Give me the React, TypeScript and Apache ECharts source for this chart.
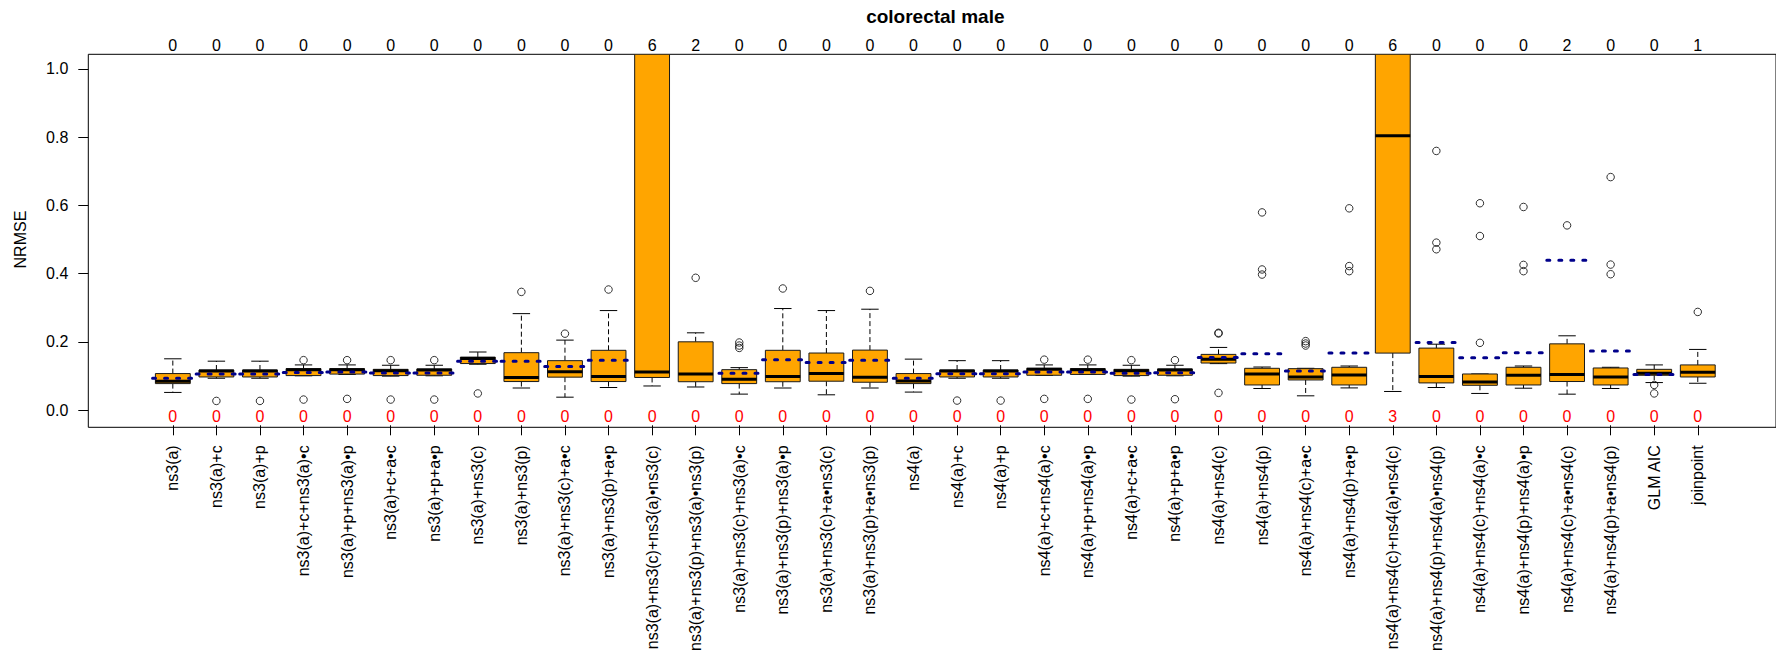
import React, { useEffect, useRef } from "react";
import * as echarts from "echarts";

// Model labels along the x axis
const categories = [
  "ns3(a)",
  "ns3(a)+c",
  "ns3(a)+p",
  "ns3(a)+c+ns3(a)•c",
  "ns3(a)+p+ns3(a)•p",
  "ns3(a)+c+a•c",
  "ns3(a)+p+a•p",
  "ns3(a)+ns3(c)",
  "ns3(a)+ns3(p)",
  "ns3(a)+ns3(c)+a•c",
  "ns3(a)+ns3(p)+a•p",
  "ns3(a)+ns3(c)+ns3(a)•ns3(c)",
  "ns3(a)+ns3(p)+ns3(a)•ns3(p)",
  "ns3(a)+ns3(c)+ns3(a)•c",
  "ns3(a)+ns3(p)+ns3(a)•p",
  "ns3(a)+ns3(c)+a•ns3(c)",
  "ns3(a)+ns3(p)+a•ns3(p)",
  "ns4(a)",
  "ns4(a)+c",
  "ns4(a)+p",
  "ns4(a)+c+ns4(a)•c",
  "ns4(a)+p+ns4(a)•p",
  "ns4(a)+c+a•c",
  "ns4(a)+p+a•p",
  "ns4(a)+ns4(c)",
  "ns4(a)+ns4(p)",
  "ns4(a)+ns4(c)+a•c",
  "ns4(a)+ns4(p)+a•p",
  "ns4(a)+ns4(c)+ns4(a)•ns4(c)",
  "ns4(a)+ns4(p)+ns4(a)•ns4(p)",
  "ns4(a)+ns4(c)+ns4(a)•c",
  "ns4(a)+ns4(p)+ns4(a)•p",
  "ns4(a)+ns4(c)+a•ns4(c)",
  "ns4(a)+ns4(p)+a•ns4(p)",
  "GLM AIC",
  "joinpoint",
];

// Box statistics per model (NRMSE)
const whiskerLow = [
  0.047, 0.0887, 0.0887, 0.096, 0.1, 0.095, 0.096, 0.13, 0.06, 0.033, 0.0615, 0.066,
  0.063, 0.042, 0.06, 0.04, 0.06, 0.048, 0.0887, 0.0887, 0.097, 0.1, 0.095, 0.096,
  0.1318, 0.0586, 0.037, 0.0603, 0.0498, 0.0615, 0.044, 0.0594, 0.0419, 0.0586, 0.076, 0.074,
];
const lowerQuartile = [
  0.073, 0.0925, 0.0925, 0.0966, 0.101, 0.0966, 0.0975, 0.132, 0.079, 0.092, 0.079, 0.091,
  0.0785, 0.073, 0.0785, 0.08, 0.077, 0.073, 0.0925, 0.0925, 0.0975, 0.1, 0.0966, 0.0975,
  0.1335, 0.069, 0.0837, 0.069, 0.1628, 0.075, 0.068, 0.069, 0.0791, 0.069, 0.0975, 0.0925,
];
const medians = [
  0.08, 0.11, 0.11, 0.114, 0.114, 0.111, 0.113, 0.147, 0.091, 0.108, 0.094, 0.107,
  0.101, 0.086, 0.094, 0.1025, 0.092, 0.081, 0.11, 0.11, 0.115, 0.114, 0.111, 0.113,
  0.1444, 0.1013, 0.0925, 0.0984, 0.803, 0.0937, 0.078, 0.0975, 0.0996, 0.0925, 0.1034, 0.1063,
];
const upperQuartile = [
  0.1025, 0.113, 0.113, 0.117, 0.117, 0.115, 0.116, 0.151, 0.164, 0.1405, 0.171, 1.35,
  0.196, 0.114, 0.171, 0.163, 0.1716, 0.1025, 0.113, 0.113, 0.118, 0.117, 0.115, 0.116,
  0.159, 0.118, 0.117, 0.121, 1.3, 0.1775, 0.1013, 0.121, 0.19, 0.119, 0.115, 0.128,
];
const whiskerHigh = [
  0.146, 0.139, 0.139, 0.128, 0.128, 0.127, 0.127, 0.166, 0.279, 0.201, 0.288, 2.4,
  0.2225, 0.12, 0.294, 0.288, 0.292, 0.145, 0.1405, 0.1405, 0.128, 0.128, 0.127, 0.127,
  0.1795, 0.1218, 0.118, 0.1248, 2.2, 0.189, 0.1013, 0.1248, 0.2137, 0.121, 0.128, 0.1736,
];
const means = [
  0.0887, 0.101, 0.101, 0.106, 0.107, 0.104, 0.104, 0.1385, 0.1385, 0.123, 0.142, 1.9,
  1.1, 0.1034, 0.1435, 0.135, 0.1414, 0.0887, 0.1017, 0.1017, 0.107, 0.107, 0.1036, 0.105,
  0.15, 0.161, 0.11, 0.1628, 1.6, 0.194, 0.149, 0.164, 0.4363, 0.1687, 0.0996, 1.2,
];
const outliers: number[][] = [
  [], [0.022], [0.022], [0.142, 0.026], [0.142, 0.028], [0.142, 0.026],
  [0.142, 0.026], [0.044], [0.343], [0.22], [0.35], [],
  [0.3845], [0.194, 0.185, 0.178], [0.353], [], [0.346], [],
  [0.023], [0.023], [0.1435, 0.028], [0.1435, 0.028], [0.142, 0.026], [0.142, 0.027],
  [0.2225, 0.2205, 0.0457], [0.577, 0.409, 0.394], [0.198, 0.191, 0.185], [0.589, 0.419, 0.404], [], [0.758, 0.488, 0.4685],
  [0.604, 0.5075, 0.193], [0.593, 0.4225, 0.404], [0.5388], [0.681, 0.4234, 0.395], [0.069, 0.044], [0.284],
];

// Counts printed above and inside the bottom of the panel
const topCounts = [
  0, 0, 0, 0, 0, 0, 0, 0, 0, 0, 0, 6, 2, 0, 0, 0, 0, 0,
  0, 0, 0, 0, 0, 0, 0, 0, 0, 0, 6, 0, 0, 0, 2, 0, 0, 1,
];
const bottomCounts = [
  0, 0, 0, 0, 0, 0, 0, 0, 0, 0, 0, 0, 0, 0, 0, 0, 0, 0,
  0, 0, 0, 0, 0, 0, 0, 0, 0, 0, 3, 0, 0, 0, 0, 0, 0, 0,
];

const yTickValues = [0, 0.2, 0.4, 0.6, 0.8, 1.0];
const chartTitle = "colorectal male";
const yAxisTitle = "NRMSE";

// Layout
const WIDTH = 1776;
const HEIGHT = 654;
const PLOT_LEFT = 88.3;
const PLOT_TOP = 54.3;
const PLOT_BOTTOM = 427.3;
const STEP = 43.57; // distance between neighbouring boxes
const EDGE_UNITS = 1.94; // frame edge to first/last box centre
const Y_MIN = -0.0498;
const Y_MAX = 1.0425;

const FONT = "'Liberation Sans', Arial, Helvetica, sans-serif";
const BOX_FILL = "#FFA500";
const MEAN_COLOR = "#00008B";

const frameWidth = (categories.length - 1 + 2 * EDGE_UNITS) * STEP;
const plotHeight = PLOT_BOTTOM - PLOT_TOP;
const pxPerUnit = plotHeight / (Y_MAX - Y_MIN);
const bandLeft = PLOT_LEFT + (EDGE_UNITS - 0.5) * STEP;
const bandWidth = categories.length * STEP;

const renderBox = (params: any, api: any) => {
  const i = api.value(0);
  const cs = params.coordSys;
  const top = cs.y;
  const bottom = cs.y + cs.height;
  const band = api.size([1, 0])[0];
  const half = band * 0.4;
  const cap = half * 0.5;
  const cx = api.coord([i, 0])[0];
  const y = (v: number) => api.coord([i, v])[1];
  const clamp = (v: number) => Math.min(bottom, Math.max(top, v));
  const yLo = y(api.value(1));
  const yQ1 = y(api.value(2));
  const yMed = y(api.value(3));
  const yQ3 = y(api.value(4));
  const yHi = y(api.value(5));
  const whisker = { stroke: "#000", lineWidth: 1, lineDash: [5, 3], fill: null };
  const solid = { stroke: "#000", lineWidth: 1, fill: null };
  const children: any[] = [];
  if (yQ3 > top) {
    children.push({ type: "line", shape: { x1: cx, y1: yQ3, x2: cx, y2: clamp(yHi) }, style: whisker });
  }
  if (yHi >= top) {
    children.push({ type: "line", shape: { x1: cx - cap, y1: yHi, x2: cx + cap, y2: yHi }, style: solid });
  }
  children.push({ type: "line", shape: { x1: cx, y1: yQ1, x2: cx, y2: clamp(yLo) }, style: whisker });
  if (yLo <= bottom) {
    children.push({ type: "line", shape: { x1: cx - cap, y1: yLo, x2: cx + cap, y2: yLo }, style: solid });
  }
  const boxTop = clamp(yQ3);
  children.push({
    type: "rect",
    shape: { x: cx - half, y: boxTop, width: half * 2, height: yQ1 - boxTop },
    style: { fill: BOX_FILL, stroke: "#1a1a1a", lineWidth: 1 },
  });
  if (yMed >= top) {
    children.push({
      type: "line",
      shape: { x1: cx - half, y1: yMed, x2: cx + half, y2: yMed },
      style: { stroke: "#000", lineWidth: 3, fill: null },
    });
  }
  return { type: "group", children };
};

const renderMean = (params: any, api: any) => {
  const i = api.value(0);
  const m = api.value(1);
  const cs = params.coordSys;
  const [cx, cy] = api.coord([i, m]);
  if (cy < cs.y || cy > cs.y + cs.height) return { type: "group", children: [] };
  const half = api.size([1, 0])[0] * 0.465;
  return {
    type: "line",
    shape: { x1: cx - half, y1: cy, x2: cx + half, y2: cy },
    style: { stroke: MEAN_COLOR, lineWidth: 3, lineDash: [3, 9], lineCap: "round", fill: null },
  };
};

export default function App() {
  const ref = useRef<HTMLDivElement>(null);

  useEffect(() => {
    document.body.style.margin = "0";
    if (!ref.current) return;
    const chart = echarts.init(ref.current, undefined, { renderer: "svg" });

    const boxData = categories.map((_, i) => [
      i,
      whiskerLow[i],
      lowerQuartile[i],
      medians[i],
      upperQuartile[i],
      whiskerHigh[i],
    ]);
    const meanData = categories.map((_, i) => [i, means[i]]);
    const outlierData: number[][] = [];
    outliers.forEach((list, i) => list.forEach((v) => outlierData.push([i, v])));

    const hiddenValueAxis = (gridIndex: number) => ({
      gridIndex,
      type: "value",
      show: false,
      min: 0,
      max: 1,
      axisLine: { onZero: false },
    });

    const option: any = {
      animation: false,
      backgroundColor: "#fff",
      textStyle: { fontFamily: FONT },
      grid: [
        // frame of the panel
        {
          left: PLOT_LEFT,
          top: PLOT_TOP,
          width: frameWidth,
          height: plotHeight,
          show: true,
          borderColor: "#000",
          borderWidth: 1,
          backgroundColor: "transparent",
        },
        // boxes
        { left: bandLeft, top: PLOT_TOP, width: bandWidth, height: plotHeight },
        // y tick range 0..1
        {
          left: PLOT_LEFT,
          top: PLOT_TOP + (Y_MAX - 1) * pxPerUnit,
          width: 10,
          height: pxPerUnit,
        },
      ],
      xAxis: [
        hiddenValueAxis(0),
        {
          gridIndex: 1,
          type: "category",
          position: "bottom",
          data: categories,
          axisLine: { show: false, onZero: false },
          axisTick: { show: true, alignWithLabel: true, interval: 0, length: 10, lineStyle: { color: "#000" } },
          axisLabel: { interval: 0, rotate: 90, margin: 20, fontSize: 16, color: "#000", fontFamily: FONT },
          splitLine: { show: false },
        },
        {
          gridIndex: 1,
          type: "category",
          position: "top",
          data: categories,
          axisLine: { show: false, onZero: false },
          axisTick: { show: false },
          axisLabel: {
            interval: 0,
            margin: 1,
            fontSize: 16,
            color: "#000",
            fontFamily: FONT,
            formatter: (_v: string, idx: number) => String(topCounts[idx]),
          },
        },
        {
          gridIndex: 1,
          type: "category",
          position: "bottom",
          offset: -17,
          data: categories,
          axisLine: { show: false, onZero: false },
          axisTick: { show: false },
          axisLabel: {
            interval: 0,
            margin: 0,
            fontSize: 16,
            color: "#FF0000",
            fontFamily: FONT,
            formatter: (_v: string, idx: number) => String(bottomCounts[idx]),
          },
        },
        hiddenValueAxis(2),
      ],
      yAxis: [
        { ...hiddenValueAxis(0), min: Y_MIN, max: Y_MAX },
        {
          gridIndex: 1,
          type: "value",
          min: Y_MIN,
          max: Y_MAX,
          show: false,
          axisLine: { onZero: false },
          splitLine: { show: false },
        },
        {
          gridIndex: 2,
          type: "value",
          position: "left",
          min: yTickValues[0],
          max: yTickValues[yTickValues.length - 1],
          interval: yTickValues[1] - yTickValues[0],
          axisLine: { show: false, onZero: false },
          axisTick: { show: true, length: 10, lineStyle: { color: "#000" } },
          axisLabel: {
            margin: 20,
            fontSize: 16,
            color: "#000",
            fontFamily: FONT,
            formatter: (v: number) => v.toFixed(1),
          },
          splitLine: { show: false },
          name: yAxisTitle,
          nameLocation: "middle",
          nameGap: 60,
          nameTextStyle: { fontSize: 16, color: "#000", fontFamily: FONT },
        },
      ],
      graphic: [
        {
          type: "text",
          x: PLOT_LEFT + frameWidth / 2,
          y: 16,
          style: {
            text: chartTitle,
            font: `bold 19px ${FONT}`,
            fill: "#000",
            align: "center",
            verticalAlign: "middle",
            textAlign: "center",
            textVerticalAlign: "middle",
          },
        },
      ],
      series: [
        {
          type: "custom",
          name: "box",
          xAxisIndex: 1,
          yAxisIndex: 1,
          data: boxData,
          encode: { x: 0, y: [1, 2, 3, 4, 5] },
          renderItem: renderBox,
          clip: true,
          silent: true,
          z: 2,
        },
        {
          type: "scatter",
          name: "outliers",
          xAxisIndex: 1,
          yAxisIndex: 1,
          data: outlierData,
          symbol: "circle",
          symbolSize: 7.5,
          itemStyle: { color: "rgba(0,0,0,0)", borderColor: "#000", borderWidth: 1 },
          silent: true,
          z: 3,
        },
        {
          type: "custom",
          name: "mean",
          xAxisIndex: 1,
          yAxisIndex: 1,
          data: meanData,
          encode: { x: 0, y: 1 },
          renderItem: renderMean,
          clip: true,
          silent: true,
          z: 4,
        },
      ],
    };

    chart.setOption(option);
    return () => chart.dispose();
  }, []);

  return <div ref={ref} style={{ width: WIDTH, height: HEIGHT }} />;
}
